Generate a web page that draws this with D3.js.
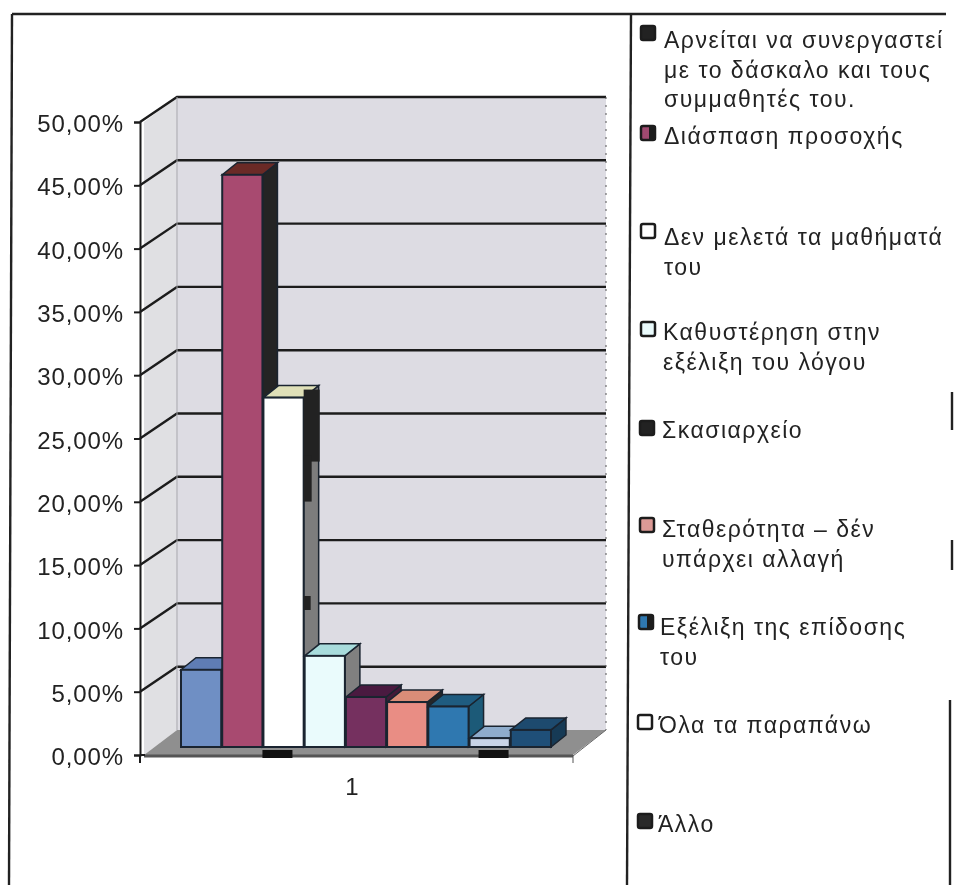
<!DOCTYPE html>
<html lang="el"><head><meta charset="utf-8">
<script src="https://cdn.jsdelivr.net/npm/d3@7/dist/d3.min.js"></script>
<style>html,body{margin:0;background:#fff}svg{display:block;filter:blur(0.45px)}text{font-family:"Liberation Sans",Arial,sans-serif;fill:#222}</style>
</head><body><svg id="c" width="954" height="885"></svg>
<script>
const categories=["Αρνείται να συνεργαστεί με το δάσκαλο και τους συμμαθητές του.","Διάσπαση προσοχής","Δεν μελετά τα μαθήματά του","Καθυστέρηση στην εξέλιξη του λόγου","Σκασιαρχείο","Σταθερότητα – δέν υπάρχει αλλαγή","Εξέλιξη της επίδοσης του","Όλα τα παραπάνω","Άλλο"];
const values=[6.1,45.2,27.6,7.2,3.95,3.55,3.2,0.7,1.35];
const legendLines=[["Αρνείται να συνεργαστεί","με το δάσκαλο και τους","συμμαθητές του."],["Διάσπαση προσοχής"],["Δεν μελετά τα μαθήματά","του"],["Καθυστέρηση στην","εξέλιξη του λόγου"],["Σκασιαρχείο"],["Σταθερότητα – δέν","υπάρχει αλλαγή"],["Εξέλιξη της επίδοσης","του"],["Όλα τα παραπάνω"],["Άλλο"]];
const swatchY=[33,133,231,329,428,525,622,722,821];
const swatchX=[648,648,648,648,647,647,646,645,645];
const legendBase=[48,144,245,340,438,537,635,733,832];
const legendX=[664,664,664,663,662,662,660,659,658];
const frontColors=["#6f8fc4","#a84a70","#ffffff","#eafbfc","#75305f","#e98d84","#2f78b0","#c8d4e8","#1f4f78"];
const topColors=["#5f7db4","#6a2a26","#dfe0b8","#a8dcdc","#4a1a40","#d98d78","#1f5c80","#8eaccc","#1d4a6e"];
const sideColors=["#4a639a","#242424","#7d7d7d","#808080","#431a38","#262626","#1c5a78","#5b6a80","#163a55"];
const swatchColors=["#222222","#a04a70","#ffffff","#eafbfc","#222222","#dc9a96","#2f78b0","#ffffff","#2a2a2a"];
const ticks=d3.range(0,51,5);

const svg=d3.select("#c");
const y=d3.scaleLinear().domain([0,50]).range([755,122]);
const x=d3.scaleBand().domain(categories).range([181,552]).paddingInner(0);
const wallDx=33,wallDy=-25;
const barDy=-8;
const depthX=15,depthY=12;
const L=144,R=573;
const path=d3.line();

// frame, slightly skewed like the scanned page
[[[12,14],[9,885]],[[12,14],[946,14]],[[631,14],[627,885]],[[950,700],[950,885]],[[952,392],[952,430]],[[952,540],[952,570]]].forEach(p=>
 svg.append("path").attr("d",path(p)).attr("fill","none").attr("stroke","#222").attr("stroke-width",2.4));

// walls and floor
svg.append("path").attr("d",path([[L,y(50)],[L+wallDx,y(50)+wallDy],[L+wallDx,y(0)+wallDy],[L,y(0)]])+"Z").attr("fill","#e0e0e3");
svg.append("rect").attr("x",L+wallDx-1).attr("y",y(50)+wallDy).attr("width",R-L+1).attr("height",y(0)-y(50)).attr("fill","#dddce3");
svg.append("path").attr("d",path([[L,y(0)],[R,y(0)],[R+wallDx,y(0)+wallDy],[L+wallDx,y(0)+wallDy]])+"Z").attr("fill","#8f8f8f");
svg.append("line").attr("x1",L).attr("x2",R).attr("y1",y(0)+1).attr("y2",y(0)+1).attr("stroke","#555").attr("stroke-width",3);

// gridlines
svg.append("g").selectAll("path").data(ticks.filter(d=>d>0)).join("path")
 .attr("d",d=>path([[L-4,y(d)],[L+wallDx,y(d)+wallDy],[R+wallDx,y(d)+wallDy]]))
 .attr("fill","none").attr("stroke","#1c1c1c").attr("stroke-width",2.4);
svg.append("line").attr("x1",L+wallDx).attr("x2",L+wallDx).attr("y1",y(50)+wallDy).attr("y2",y(0)+wallDy).attr("stroke","#a9a9ad");
svg.append("line").attr("x1",R+wallDx).attr("x2",R+wallDx).attr("y1",y(50)+wallDy).attr("y2",y(0)+wallDy).attr("stroke","#555").attr("stroke-dasharray","2 6");
svg.append("line").attr("x1",R).attr("x2",R+wallDx).attr("y1",y(0)+1).attr("y2",y(0)+wallDy).attr("stroke","#666");
svg.append("line").attr("x1",R).attr("x2",R).attr("y1",y(0)).attr("y2",y(0)+8).attr("stroke","#555");

// axis
const axis=d3.axisLeft(y).tickValues(ticks).tickSize(6).tickPadding(10).tickFormat(d=>d3.format(".2f")(d).replace(".",",")+"%");
const ag=svg.append("g").attr("transform","translate(140,0)").call(axis);
ag.selectAll("path,line").attr("stroke","#1c1c1c").attr("stroke-width",2);
ag.selectAll("text").attr("font-size",24).attr("letter-spacing","0.9").attr("dy","0.4em").style("font-family",'"Liberation Sans",Arial,sans-serif').attr("fill","#2a2a2a");
ag.append("line").attr("x1",0).attr("x2",5).attr("y1",y(0)).attr("y2",y(0)).attr("stroke","#1c1c1c").attr("stroke-width",2);
ag.append("line").attr("x1",0).attr("x2",0).attr("y1",y(0)).attr("y2",y(0)+8).attr("stroke","#1c1c1c").attr("stroke-width",2);

// bars: each one overlaps the one on its left
const bw=x.bandwidth();
const bars=svg.append("g").selectAll("g").data(categories.map((c,i)=>({c,i,v:values[i]}))).join("g");
bars.append("path").attr("d",d=>{const a=x(d.c)+bw-1,t=y(d.v)+barDy,b=y(0)+barDy;return path([[a,t],[a+depthX,t-depthY],[a+depthX,b-depthY],[a,b]])+"Z"})
 .attr("fill",d=>sideColors[d.i]).attr("stroke","#1a2430").attr("stroke-width",1.5);
bars.append("path").attr("d",d=>{const a=x(d.c),t=y(d.v)+barDy;return path([[a,t],[a+depthX,t-depthY],[a+bw-1+depthX,t-depthY],[a+bw-1,t]])+"Z"})
 .attr("fill",d=>topColors[d.i]).attr("stroke","#1a2430").attr("stroke-width",1.5);
bars.append("rect").attr("x",d=>x(d.c)).attr("y",d=>y(d.v)+barDy).attr("width",bw-1).attr("height",d=>y(0)-y(d.v))
 .attr("fill",d=>frontColors[d.i]).attr("stroke","#1a2430").attr("stroke-width",2);

// scan artefacts on the third bar and floor
const a3=x(categories[2])+bw-1;
svg.append("rect").attr("x",a3).attr("y",y(values[2])-16).attr("width",depthX+1).attr("height",72).attr("fill","#222");
svg.append("rect").attr("x",a3).attr("y",y(values[2])+50).attr("width",8).attr("height",46).attr("fill","#222");
svg.append("rect").attr("x",a3).attr("y",596).attr("width",7).attr("height",14).attr("fill","#222");
[x(categories[2])-1,x(categories[7])+9].forEach(v=>svg.append("rect").attr("x",v).attr("y",750).attr("width",30).attr("height",8).attr("fill","#111"));

svg.append("text").attr("x",352).attr("y",795).attr("text-anchor","middle").attr("font-size",24).text("1");

// legend
const lg=svg.append("g").selectAll("g").data(legendLines).join("g");
lg.append("rect").attr("x",(d,i)=>swatchX[i]-7).attr("y",(d,i)=>swatchY[i]-7).attr("width",14).attr("height",14).attr("rx",2)
 .attr("fill",(d,i)=>swatchColors[i]).attr("stroke","#1c1c1c").attr("stroke-width",2.5);
lg.filter((d,i)=>i===1||i===6).append("rect").attr("x",(d)=>swatchX[legendLines.indexOf(d)]+1).attr("y",d=>swatchY[legendLines.indexOf(d)]-7).attr("width",7).attr("height",14).attr("fill","#1c1c1c");
lg.each(function(d,i){d3.select(this).selectAll("text").data(d).join("text").attr("x",legendX[i]).attr("y",(t,j)=>legendBase[i]+j*29.5).attr("font-size",23).attr("letter-spacing","1.5").text(t=>t)});
</script></body></html>
